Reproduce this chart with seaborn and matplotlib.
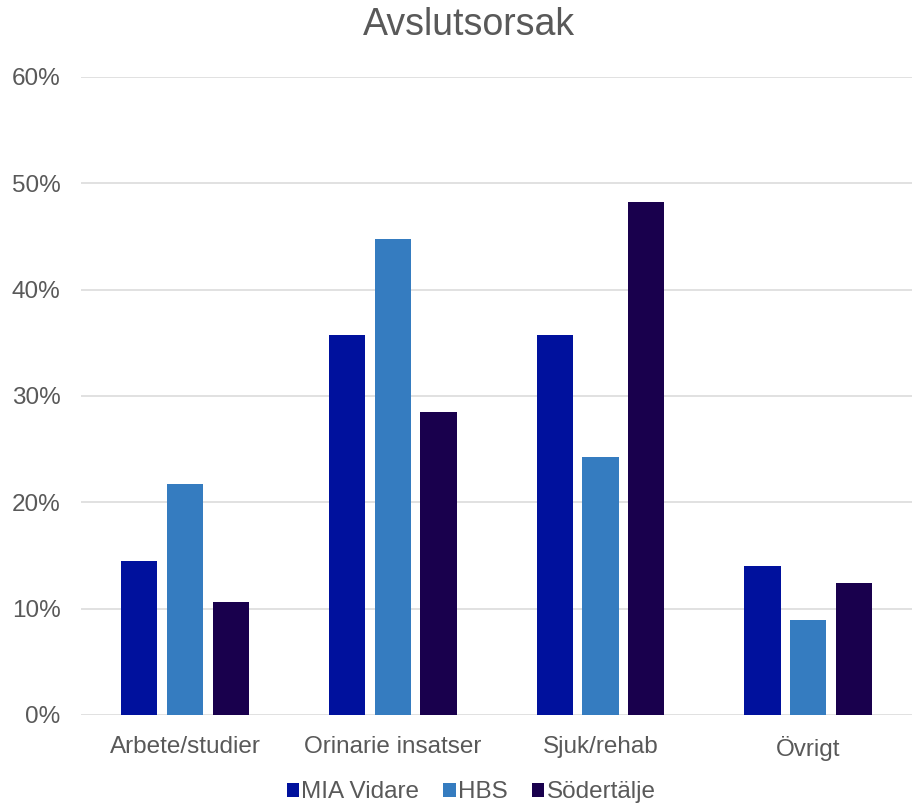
import matplotlib
matplotlib.use("Agg")
from matplotlib import pyplot as plt
import pandas
import seaborn as sns

# Data (percent)
categories = ["Arbete/studier", "Orinarie insatser", "Sjuk/rehab", "Övrigt"]
series = ["MIA Vidare", "HBS", "Södertälje"]
mia_vidare = [14.5, 35.7, 35.7, 14.0]
hbs = [21.7, 44.8, 24.3, 8.9]
sodertalje = [10.6, 28.5, 48.2, 12.4]
y_ticks = [0, 10, 20, 30, 40, 50, 60]
colors = ["#00119D", "#357CC0", "#19004D"]

rows = []
for name, values in zip(series, [mia_vidare, hbs, sodertalje]):
    for cat, v in zip(categories, values):
        rows.append({"Kategori": cat, "Andel": v, "Serie": name})
dataframe = pandas.DataFrame(rows)

sns.set_style("white")
plt.rcParams['font.family'] = ['Liberation Sans', 'DejaVu Sans']
text_color = "#595959"

fig, ax1 = plt.subplots(figsize=(9.13, 8.06), dpi=100)
fig.subplots_adjust(left=0.089, right=0.999, bottom=0.113, top=0.9045)

g = sns.barplot(data=dataframe, x="Kategori", y="Andel", hue="Serie",
                palette=colors, saturation=1, width=0.66, gap=0.21,
                errorbar=None, ax=ax1, linewidth=0)

# Plot settings
ax1.set_ylim(0, 60)
ax1.set_yticks(y_ticks)
ax1.set_yticklabels([str(t) + "%" for t in y_ticks])
ax1.set_xlim(-0.5, len(categories) - 0.5)
ax1.yaxis.grid(True, color="#D9D9D9", linewidth=1.1)
ax1.set_axisbelow(True)
for s in ax1.spines.values():
    s.set_visible(False)
ax1.tick_params(axis="both", length=0, labelsize=17.5, labelcolor=text_color)
ax1.tick_params(axis="y", pad=15)
ax1.tick_params(axis="x", pad=15)
ax1.set_xlabel("")
ax1.set_ylabel("")
fig.text(0.514, 0.969, "Avslutsorsak", fontsize=27, color=text_color,
         ha="center", va="center")

handles, labels = ax1.get_legend_handles_labels()
ax1.get_legend().remove()
fig.legend(handles, labels, loc="center", bbox_to_anchor=(0.516, 0.017), ncol=3,
           frameon=False, fontsize=17.5, labelcolor=text_color,
           handlelength=0.5, handleheight=0.5, handletextpad=0.1,
           columnspacing=1.0)

plt.savefig("out.png", dpi=100)
